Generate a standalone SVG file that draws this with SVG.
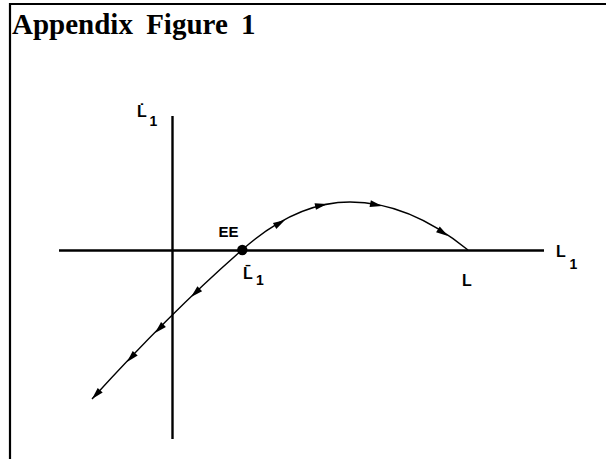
<svg xmlns="http://www.w3.org/2000/svg" width="606" height="459" viewBox="0 0 606 459">
<style>
.frame{stroke:#000;stroke-width:2.2;fill:none}
.axis{stroke:#000;stroke-width:2.4;fill:none}
.curve{stroke:#000;stroke-width:1.4;fill:none}
.lbl{font-family:"Liberation Sans",Arial,sans-serif;font-weight:bold;fill:#000}
.sub{font-size:14px}
.title{font-family:"Liberation Serif","Times New Roman",serif;font-weight:bold;font-size:29px;fill:#000}
</style>
<defs>
<path id="ah" d="M0,0 L-12,-3.4 L-12,3.4 Z" fill="#000"/>
</defs>
<rect width="606" height="459" fill="#fff"/>
<g id="frame">
<line class="frame" x1="9" y1="4" x2="606" y2="4"/>
<line class="frame" x1="10" y1="3" x2="10" y2="459"/>
</g>
<text class="title" x="12" y="34" word-spacing="6">Appendix Figure 1</text>
<g id="axes">
<line class="axis" x1="59" y1="250.5" x2="544" y2="250.5"/>
<line class="axis" x1="172.5" y1="116" x2="172.5" y2="439"/>
</g>
<g id="connectors">
<path class="curve" d="M92,399 Q172,311 242,250 Q296,202 350,202 Q409,202 468,250"/>
<use href="#ah" transform="translate(92,399) rotate(133)"/>
<use href="#ah" transform="translate(127,362) rotate(133)"/>
<use href="#ah" transform="translate(155,333) rotate(135)"/>
<use href="#ah" transform="translate(191,297) rotate(137)"/>
<use href="#ah" transform="translate(285,220) rotate(-30)"/>
<use href="#ah" transform="translate(327,204) rotate(-12)"/>
<use href="#ah" transform="translate(382,206) rotate(11)"/>
<use href="#ah" transform="translate(448,236) rotate(33)"/>
</g>
<g id="EE">
<circle cx="242.3" cy="250" r="5.2" fill="#000"/>
<text class="lbl" x="218.5" y="236.5" font-size="15">EE</text>
</g>
<g id="L1bar">
<text class="lbl" font-size="16" x="243" y="279">L̄<tspan class="sub" x="256" y="285">1</tspan></text>
</g>
<g id="L1dot">
<text class="lbl" font-size="16" x="137" y="117">L̇<tspan class="sub" x="149.5" y="126">1</tspan></text>
</g>
<g id="L1axis">
<text class="lbl" font-size="16"><tspan x="556" y="257">L</tspan><tspan class="sub" x="569.5" y="269">1</tspan></text>
</g>
<g id="L">
<text class="lbl" x="462" y="286" font-size="16">L</text>
</g>
</svg>
